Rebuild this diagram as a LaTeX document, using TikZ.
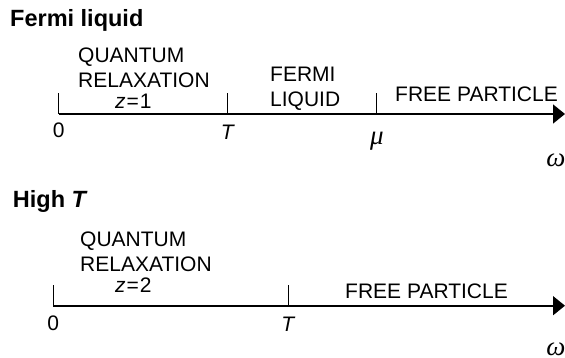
\documentclass[tikz,border=0pt]{standalone}
\usepackage{fontspec}
\setmainfont{Liberation Sans}
\newfontfamily\greekserif{Liberation Serif}
\usetikzlibrary{arrows.meta,positioning}

\begin{document}
\begin{tikzpicture}[x=1pt,y=-1pt]
  \tikzstyle{titlebox}=[anchor=base west,inner sep=0pt,font=\fontsize{23.5}{27}\selectfont\bfseries]
  \tikzstyle{regionbox}=[anchor=base west,inner sep=0pt,align=left,font=\fontsize{21}{25}\selectfont]
  \tikzstyle{ticklabel}=[anchor=base,inner sep=0pt,font=\fontsize{21}{25}\selectfont]
  \tikzstyle{greeklabel}=[anchor=base,inner sep=0pt,font=\fontsize{27}{30}\selectfont\greekserif\itshape]
  \tikzstyle{axisline}=[line width=1.6pt,-{Triangle[length=12pt,width=19pt]}]
  \tikzstyle{tickline}=[line width=1pt]

  \useasboundingbox (0,0) rectangle (565,358);

  % Fermi liquid
  \node[titlebox] (fltitle) at (10,27) {Fermi liquid};
  \node[regionbox] (flquantum) at (78,88) {QUANTUM\\RELAXATION};
  \node[regionbox] (flz) at (115,109) {\textit{z}\kern1pt=\kern1pt1};
  \node[regionbox] (flfermi) at (270,107) {FERMI\\LIQUID};
  \node[regionbox] (flfree) at (395,102) {FREE PARTICLE};

  \coordinate (flzero) at (58.7,114);
  \coordinate (flzerotop) at (58.7,93);
  \coordinate (flT) at (227.7,114);
  \coordinate (flTtop) at (227.7,93);
  \coordinate (flmu) at (376.7,114);
  \coordinate (flmutop) at (376.7,93);
  \coordinate (flend) at (565,114);

  \draw[axisline] (flzero) -- (flend);
  \draw[tickline] (flzero) -- (flzerotop);
  \draw[tickline] (flT) -- (flTtop);
  \draw[tickline] (flmu) -- (flmutop);

  \node[ticklabel] (flzerolabel) at (58.7,138) {0};
  \node[ticklabel] (flTlabel) at (228,140) {\textit{T}};
  \node[greeklabel] (flmulabel) at (377,145) {μ};
  \node[greeklabel] (flomega) at (556,167) {ω};

  % High T
  \node[titlebox] (httitle) at (12.7,208) {High \textit{T}};
  \node[regionbox] (htquantum) at (80,271.7) {QUANTUM\\RELAXATION};
  \node[regionbox] (htz) at (115,292.7) {\textit{z}\kern1pt=\kern1pt2};
  \node[regionbox] (htfree) at (345,298.3) {FREE PARTICLE};

  \coordinate (htzero) at (53.3,305.7);
  \coordinate (htzerotop) at (53.3,285);
  \coordinate (htT) at (288.3,305.7);
  \coordinate (htTtop) at (288.3,285);
  \coordinate (htend) at (565,305.7);

  \draw[axisline] (htzero) -- (htend);
  \draw[tickline] (htzero) -- (htzerotop);
  \draw[tickline] (htT) -- (htTtop);

  \node[ticklabel] (htzerolabel) at (53.3,330) {0};
  \node[ticklabel] (htTlabel) at (288.3,331.7) {\textit{T}};
  \node[greeklabel] (htomega) at (556,355) {ω};
\end{tikzpicture}
\end{document}
